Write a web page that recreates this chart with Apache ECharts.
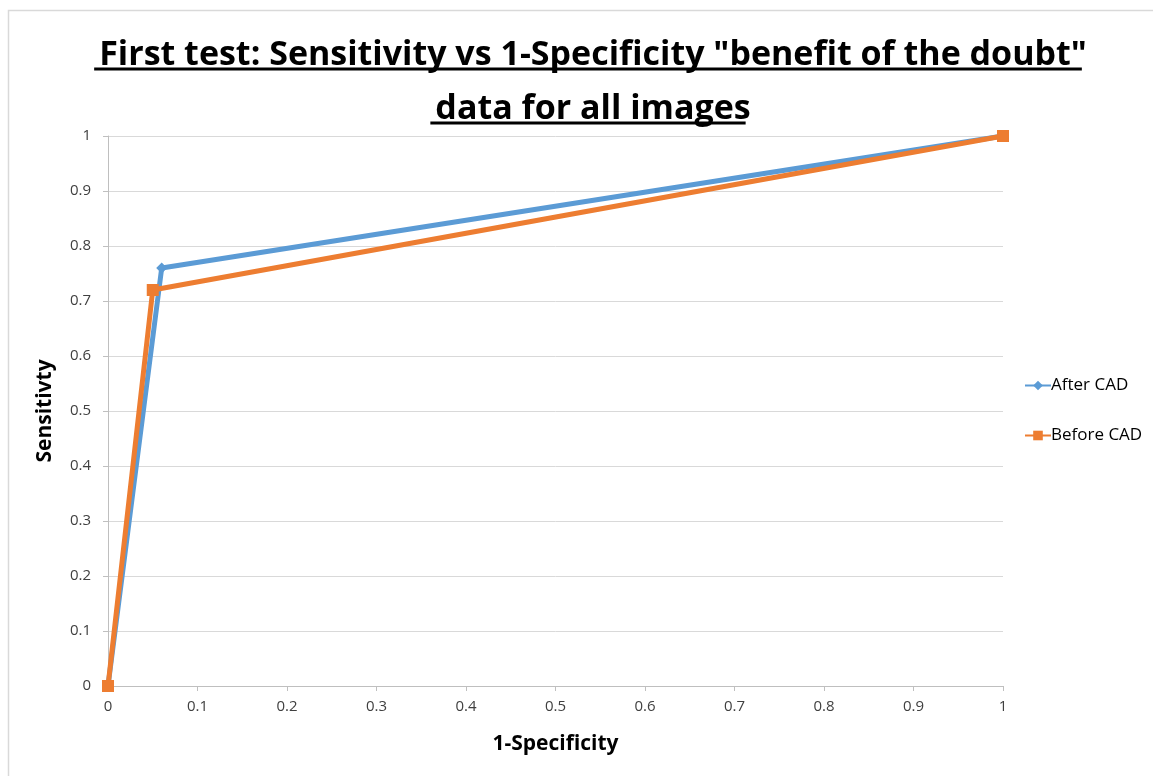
<!DOCTYPE html>
<html>
<head>
<meta charset="utf-8">
<script src="https://cdn.jsdelivr.net/npm/echarts@6/dist/echarts.min.js"></script>
<style>
  html, body { margin: 0; padding: 0; background: #fff; }
  #chart { width: 1153px; height: 776px; }
</style>
</head>
<body>
<div id="chart"></div>
<script>
// ROC points: [1-Specificity, Sensitivity]
const afterCadX = [0, 0.06, 1];
const afterCadY = [0, 0.76, 1];
const beforeCadX = [0, 0.05, 1];
const beforeCadY = [0, 0.72, 1];
const seriesNames = ['After CAD', 'Before CAD'];
const titleLines = ['First test: Sensitivity vs 1-Specificity "benefit of the doubt"', 'data for all images'];
const xAxisName = '1-Specificity';
const yAxisName = 'Sensitivty';

const pairs = (xs, ys) => xs.map((x, i) => [x, ys[i]]);

const titleFamily = '"Open Sans", sans-serif';
const titleSize = 34;
const labelFamily = '"Open Sans", "Liberation Sans", sans-serif';

// measure title lines so the underlines follow the text width
const measureCtx = document.createElement('canvas').getContext('2d');
measureCtx.font = 'bold ' + titleSize + 'px ' + titleFamily;
const W = 1153;
const centerX = 588;
const lineTops = [69, 123];
const underlines = titleLines.map((t, i) => {
  const w = measureCtx.measureText(t).width;
  return {
    type: 'line',
    shape: { x1: centerX - w / 2, y1: lineTops[i], x2: centerX + w / 2, y2: lineTops[i] },
    style: { stroke: '#000', lineWidth: 3 },
    silent: true
  };
});

const chart = echarts.init(document.getElementById('chart'), null, { renderer: 'canvas' });
chart.setOption({
  backgroundColor: '#fff',
  animation: false,
  graphic: [
    {
      type: 'rect',
      shape: { x: 8.5, y: 10.5, width: 1200, height: 800 },
      style: { fill: 'none', stroke: '#d9d9d9', lineWidth: 1.5 },
      silent: true,
      z: -10
    }
  ].concat(underlines),
  title: {
    text: titleLines.join('\n'),
    left: centerX,
    textAlign: 'center',
    top: 23,
    textStyle: {
      fontFamily: titleFamily,
      fontWeight: 'bold',
      fontSize: titleSize,
      lineHeight: 54,
      color: '#000'
    }
  },
  legend: {
    orient: 'vertical',
    left: 1019,
    top: 372,
    itemGap: 33,
    itemWidth: 26,
    itemHeight: 12,
    textStyle: { fontFamily: labelFamily, fontSize: 17, color: '#000', padding: [0, 0, 0, -5] },
    data: seriesNames
  },
  grid: { left: 108, right: 150, top: 136, bottom: 90 },
  xAxis: {
    type: 'value',
    min: 0, max: 1, interval: 0.1,
    name: xAxisName,
    nameLocation: 'middle',
    nameGap: 48,
    nameTextStyle: { fontFamily: labelFamily, fontWeight: 'bold', fontSize: 21, color: '#000' },
    axisLine: { show: true, lineStyle: { color: '#bfbfbf', width: 1 } },
    axisTick: { show: true, length: 5, lineStyle: { color: '#bfbfbf' } },
    axisLabel: { fontFamily: labelFamily, fontSize: 15, color: '#404040', margin: 13,
      formatter: v => String(Math.round(v * 10) / 10) },
    splitLine: { show: false }
  },
  yAxis: {
    type: 'value',
    min: 0, max: 1, interval: 0.1,
    name: yAxisName,
    nameLocation: 'middle',
    nameGap: 52,
    nameRotate: 90,
    nameTextStyle: { fontFamily: labelFamily, fontWeight: 'bold', fontSize: 21, color: '#000' },
    axisLine: { show: true, lineStyle: { color: '#bfbfbf', width: 1 } },
    axisTick: { show: true, length: 5, lineStyle: { color: '#bfbfbf' } },
    axisLabel: { fontFamily: labelFamily, fontSize: 15, color: '#404040', margin: 17,
      formatter: v => String(Math.round(v * 10) / 10) },
    splitLine: { show: true, lineStyle: { color: '#d9d9d9', width: 1 } }
  },
  series: [
    {
      name: seriesNames[0],
      type: 'line',
      data: pairs(afterCadX, afterCadY),
      symbol: 'diamond',
      symbolSize: 11,
      showAllSymbol: true,
      lineStyle: { color: '#5b9bd5', width: 5 },
      itemStyle: { color: '#5b9bd5' },
      z: 2
    },
    {
      name: seriesNames[1],
      type: 'line',
      data: pairs(beforeCadX, beforeCadY),
      symbol: 'rect',
      symbolSize: 12,
      showAllSymbol: true,
      lineStyle: { color: '#ed7d31', width: 5 },
      itemStyle: { color: '#ed7d31' },
      z: 3
    }
  ]
});
</script>
</body>
</html>
